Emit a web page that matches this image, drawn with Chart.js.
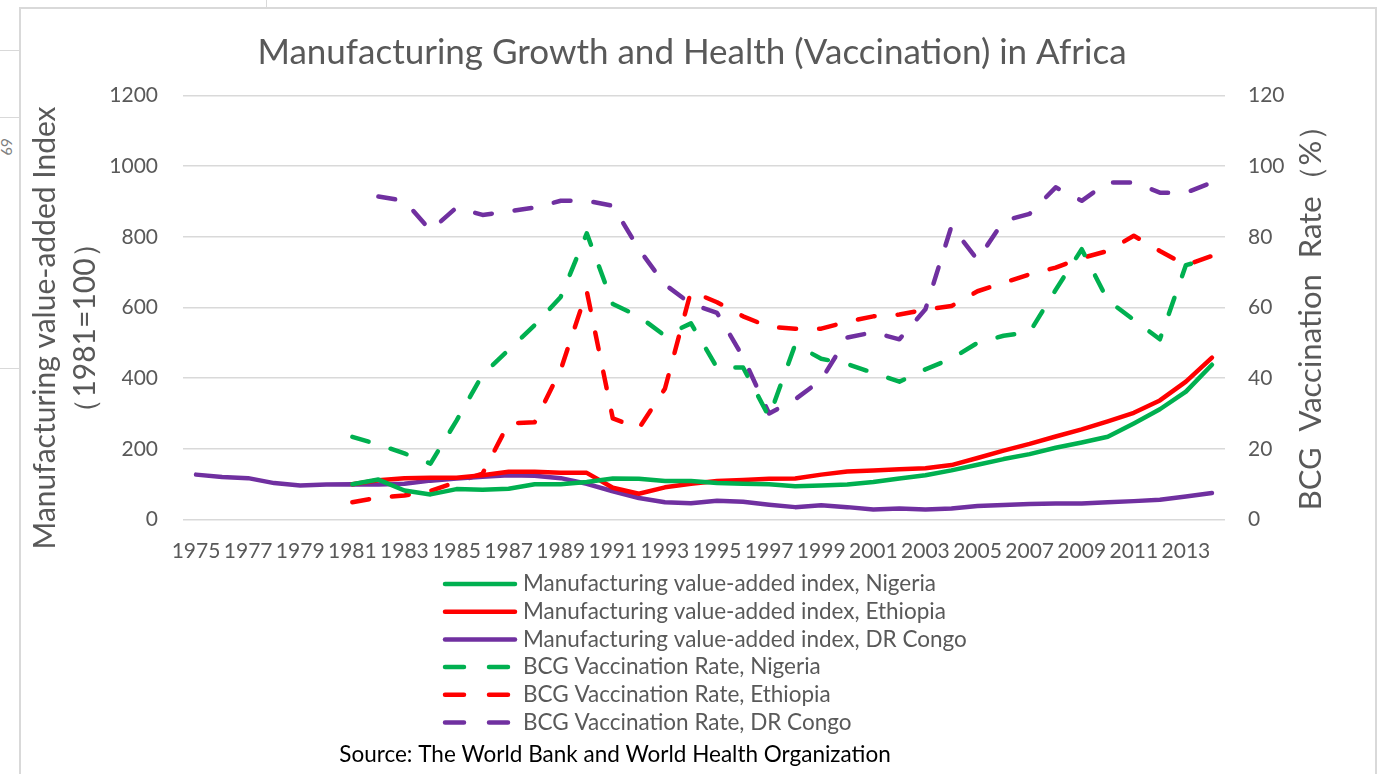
<!DOCTYPE html>
<html>
<head>
<meta charset="utf-8">
<title>Manufacturing Growth and Health (Vaccination) in Africa</title>
<script src="https://cdn.jsdelivr.net/npm/chart.js@4.4.1/dist/chart.umd.min.js"></script>
<style>
    html, body { margin: 0; padding: 0; background: #fff; overflow: hidden; }
    body { width: 1384px; height: 774px; position: relative; font-family: Lato, "Open Sans", sans-serif; }
    .frame { position: absolute; left: 19px; top: 7px; width: 1354px; height: 800px;
             border: 2px solid #d9d9d9; border-bottom: none; }
    .cell-line { position: absolute; left: 0; width: 19px; height: 1px; background: #d9d9d9; }
    .col-line { position: absolute; left: 266px; top: 0; width: 1px; height: 7px; background: #d9d9d9; }
    .cell-text { position: absolute; left: -2px; top: 138px; font-size: 15px; color: #7f7f7f;
                 transform: rotate(90deg); }
    #chart { position: absolute; left: 0; top: 0; }
</style>
</head>
<body>
<div class="cell-line" style="top:50px"></div>
<div class="cell-line" style="top:117px"></div>
<div class="cell-line" style="top:368px"></div>
<div class="col-line"></div>
<div class="cell-text">69</div>
<div class="frame"></div>
<canvas id="chart" width="1384" height="774"></canvas>

<script>
// 연도 (카테고리)
const years = [
    '1975', '1976', '1977', '1978', '1979', '1980', '1981', '1982', '1983', '1984',
    '1985', '1986', '1987', '1988', '1989', '1990', '1991', '1992', '1993', '1994',
    '1995', '1996', '1997', '1998', '1999', '2000', '2001', '2002', '2003', '2004',
    '2005', '2006', '2007', '2008', '2009', '2010', '2011', '2012', '2013', '2014'
];

// 제조업 부가가치 지수 (1981=100)
const mvaNigeria = [
    null, null, null, null, null, null, 100, 113, 82, 71,
    86, 84, 87, 100, 100, 106, 116, 115, 109, 109,
    103, 101, 100, 94, 96, 99, 106, 116, 125, 139,
    155, 171, 185, 203, 218, 234, 272, 312, 362, 438
];
const mvaEthiopia = [
    null, null, null, null, null, null, 100, 111, 117, 118,
    118, 125, 135, 135, 132, 132, 90, 73, 91, 101,
    109, 112, 115, 116, 127, 136, 139, 142, 145, 154,
    174, 195, 214, 235, 255, 278, 302, 337, 390, 458
];
const mvaCongo = [
    127, 120, 117, 103, 96, 99, 100, 99, 101, 110,
    116, 121, 125, 124, 117, 101, 80, 61, 49, 46,
    53, 50, 42, 35, 40, 35, 28, 31, 28, 31,
    38, 41, 44, 45, 45, 49, 52, 56, 65, 75
];

// BCG 접종률 (%)
const bcgNigeria = [
    null, null, null, null, null, null, 23.4, 21.2, 18.7, 15.8,
    28, 41, 48, 55, 63, 81, 61, 57.5, 52, 55.5,
    43, 43, 29, 49.5, 45.5, 44, 41.5, 39, 42.5, 45.5,
    50, 52, 53, 65, 76.5, 62, 56.5, 51, 72, 74
];
const bcgEthiopia = [
    null, null, null, null, null, null, 4.9, 6.2, 6.8, 8.1,
    10.6, 13, 27.2, 27.5, 42.4, 64.6, 28.6, 25.8, 37, 64.6,
    61.5, 57.5, 54.5, 54, 54, 56, 57.5, 58, 59.4, 60.4,
    64.6, 67, 69.4, 71.3, 74, 76, 80.3, 76, 72, 74.6
];
const bcgCongo = [
    null, null, null, null, null, null, null, 91.4, 90.2, 81.8,
    88.3, 86.2, 87.2, 88.3, 90.2, 90.2, 88.8, 76.5, 66.5, 61,
    58.5, 46, 30, 34, 39.5, 51.5, 53, 51, 59.5, 83,
    73.5, 84.5, 86.5, 94, 90.2, 95.4, 95.4, 92.5, 92.5, 95.4
];

// 축 눈금
const leftTicks = [0, 200, 400, 600, 800, 1000, 1200];
const rightTicks = [0, 20, 40, 60, 80, 100, 120];

const GREEN = '#00B050';
const RED = '#FF0000';
const PURPLE = '#7030A0';
const GREY_TEXT = '#595959';
const FONT = 'Lato, "Open Sans", sans-serif';

const DASH = [17, 23];

function lineSet(label, data, color, axis, dashed) {
    return {
        label: label,
        data: data,
        yAxisID: axis,
        borderColor: color,
        backgroundColor: color,
        borderWidth: 4.5,
        borderDash: dashed ? DASH : [],
        borderCapStyle: 'round',
        borderJoinStyle: 'round',
        pointRadius: 0,
        pointHoverRadius: 0,
        tension: 0,
        spanGaps: false,
        fill: false
    };
}

/**
 * 축 제목, 범례, 출처 표시 (엑셀 차트 모양 재현)
 */
const extrasPlugin = {
    id: 'extras',
    afterDraw(chart) {
        const ctx = chart.ctx;

        ctx.save();
        ctx.fillStyle = GREY_TEXT;
        ctx.textBaseline = 'middle';

        // 왼쪽 축 제목
        ctx.save();
        ctx.font = '30px ' + FONT;
        ctx.textAlign = 'center';
        ctx.translate(45, 328);
        ctx.rotate(-Math.PI / 2);
        ctx.fillText('Manufacturing value-added Index', 0, 0);
        ctx.fillText('（1981=100）', 0, 40);
        ctx.restore();

        // 오른쪽 축 제목
        ctx.save();
        ctx.font = '31px ' + FONT;
        ctx.textAlign = 'center';
        ctx.translate(1311, 310);
        ctx.rotate(-Math.PI / 2);
        ctx.fillText('BCG  Vaccination  Rate（%）', 0, 0);
        ctx.restore();

        // 범례 (세로 한 줄씩)
        const legendX = 443, legendLen = 72, rowTop = 584, rowGap = 27.7;
        ctx.font = '22.5px ' + FONT;
        ctx.textAlign = 'left';
        chart.data.datasets.forEach((ds, i) => {
            const y = rowTop + i * rowGap;
            ctx.beginPath();
            ctx.strokeStyle = ds.borderColor;
            ctx.lineWidth = 4.5;
            ctx.lineCap = 'round';
            ctx.setLineDash(ds.borderDash.length ? [19, 25] : []);
            ctx.moveTo(legendX + 2, y);
            ctx.lineTo(legendX + legendLen, y);
            ctx.stroke();
            ctx.fillStyle = GREY_TEXT;
            ctx.fillText(ds.label, legendX + legendLen + 8, y);
        });
        ctx.setLineDash([]);

        // 출처
        ctx.fillStyle = '#000000';
        ctx.textAlign = 'center';
        ctx.fillText('Source: The World Bank and World Health Organization', 615, 755);

        ctx.restore();
    }
};

document.addEventListener('DOMContentLoaded', () => {
    const ctx = document.getElementById('chart').getContext('2d');

    new Chart(ctx, {
        type: 'line',
        data: {
            labels: years,
            datasets: [
                lineSet('Manufacturing value-added index, Nigeria', mvaNigeria, GREEN, 'yLeft', false),
                lineSet('Manufacturing value-added index, Ethiopia', mvaEthiopia, RED, 'yLeft', false),
                lineSet('Manufacturing value-added index, DR Congo', mvaCongo, PURPLE, 'yLeft', false),
                lineSet('BCG Vaccination Rate, Nigeria', bcgNigeria, GREEN, 'yRight', true),
                lineSet('BCG Vaccination Rate, Ethiopia', bcgEthiopia, RED, 'yRight', true),
                lineSet('BCG Vaccination Rate, DR Congo', bcgCongo, PURPLE, 'yRight', true)
            ]
        },
        options: {
            responsive: false,
            animation: false,
            devicePixelRatio: 1,
            layout: { padding: { left: 0, right: 0, top: 0, bottom: 214.5 } },
            plugins: {
                legend: { display: false },
                tooltip: { enabled: false },
                title: {
                    display: true,
                    text: 'Manufacturing Growth and Health (Vaccination) in Africa',
                    color: GREY_TEXT,
                    font: { family: FONT, size: 35, weight: 'normal' },
                    padding: { top: 32, bottom: 21.5 }
                }
            },
            scales: {
                x: {
                    type: 'category',
                    offset: true,
                    grid: { display: false, drawTicks: false },
                    border: { display: false },
                    afterFit: (scale) => { scale.height = 40; },
                    ticks: {
                        autoSkip: false,
                        maxRotation: 0,
                        minRotation: 0,
                        padding: 19,
                        color: GREY_TEXT,
                        font: { family: FONT, size: 21 },
                        callback: function(value, index) {
                            return index % 2 === 0 ? this.getLabelForValue(value) : '';
                        }
                    }
                },
                yLeft: {
                    type: 'linear',
                    position: 'left',
                    min: leftTicks[0],
                    max: leftTicks[leftTicks.length - 1],
                    afterFit: (scale) => { scale.width = 183; },
                    afterBuildTicks: (scale) => { scale.ticks = leftTicks.map(v => ({ value: v })); },
                    grid: { color: '#d9d9d9', lineWidth: 1.5, drawTicks: false },
                    border: { display: false },
                    ticks: {
                        padding: 25,
                        color: GREY_TEXT,
                        font: { family: FONT, size: 21 },
                        callback: (value) => String(value)
                    }
                },
                yRight: {
                    type: 'linear',
                    position: 'right',
                    min: rightTicks[0],
                    max: rightTicks[rightTicks.length - 1],
                    afterFit: (scale) => { scale.width = 159; },
                    afterBuildTicks: (scale) => { scale.ticks = rightTicks.map(v => ({ value: v })); },
                    grid: { display: false, drawTicks: false },
                    border: { display: false },
                    ticks: {
                        padding: 23,
                        color: GREY_TEXT,
                        font: { family: FONT, size: 21 },
                        callback: (value) => String(value)
                    }
                }
            }
        },
        plugins: [extrasPlugin]
    });
});
</script>
</body>
</html>
